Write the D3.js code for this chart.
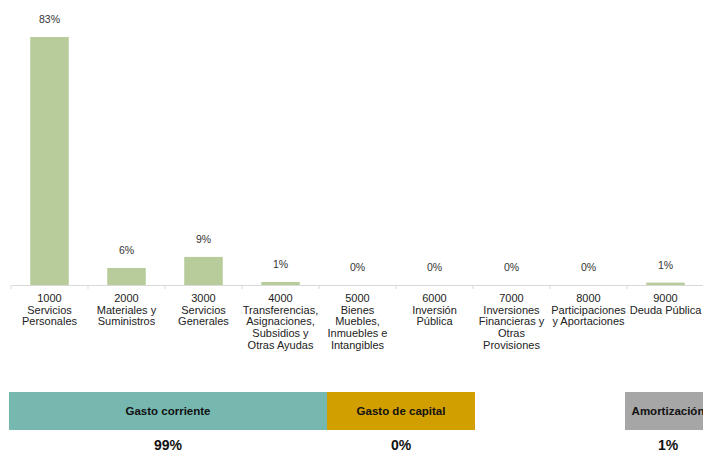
<!DOCTYPE html>
<html>
<head>
<meta charset="utf-8">
<script src="https://cdn.jsdelivr.net/npm/d3@7"></script>
<style>
  html, body { margin: 0; padding: 0; background: #fff; overflow: hidden; }
  svg { display: block; font-family: "Liberation Sans", Arial, sans-serif; }
</style>
</head>
<body>
<svg id="chart" width="703" height="453"></svg>
<script>
// ---- data ----
const categories = [
  ["1000", "Servicios", "Personales"],
  ["2000", "Materiales y", "Suministros"],
  ["3000", "Servicios", "Generales"],
  ["4000", "Transferencias,", "Asignaciones,", "Subsidios y", "Otras Ayudas"],
  ["5000", "Bienes", "Muebles,", "Inmuebles e", "Intangibles"],
  ["6000", "Inversión", "Pública"],
  ["7000", "Inversiones", "Financieras y", "Otras", "Provisiones"],
  ["8000", "Participaciones", "y Aportaciones"],
  ["9000", "Deuda Pública"]
];
const shares = [0.830, 0.057, 0.094, 0.010, 0.0, 0.0, 0.0, 0.0, 0.008];
const shareLabels = ["83%", "6%", "9%", "1%", "0%", "0%", "0%", "0%", "1%"];

const groupNames = ["Gasto corriente", "Gasto de capital", "Amortización"];
const groupValues = ["99%", "0%", "1%"];
const groupColors = ["#76b8b0", "#d19f00", "#a6a6a6"];
// group box extents, in units of the bottom strip scale
const groupStart = [0, 318, 616];
const groupEnd = [318, 466, 702];

// ---- layout ----
const svg = d3.select("#chart");
const ids = categories.map(c => c[0]);

const x = d3.scaleBand().domain(ids).range([11, 704]).paddingInner(0.5).paddingOuter(0.25);
const y = d3.scaleLinear().domain([0, 0.83]).range([285, 37]);

// bars
svg.append("g").selectAll("rect").data(shares).join("rect")
  .attr("x", (d, i) => x(ids[i]))
  .attr("y", d => y(d))
  .attr("width", x.bandwidth())
  .attr("height", d => y(0) - y(d))
  .attr("fill", "#b7cb9b");

// value labels
svg.append("g").selectAll("text").data(shares).join("text")
  .attr("x", (d, i) => x(ids[i]) + x.bandwidth() / 2)
  .attr("y", d => y(d) - 14)
  .attr("text-anchor", "middle")
  .attr("font-size", 10.5)
  .attr("fill", "#333")
  .text((d, i) => shareLabels[i]);

// axis
const axisScale = d3.scaleBand().domain(ids).range([11, 704]);
const axis = d3.axisBottom(axisScale).tickSize(0).tickFormat("");
const gAxis = svg.append("g").attr("transform", "translate(0,285)").call(axis);
gAxis.select(".domain").attr("stroke", "#d9d9d9").attr("stroke-width", 1.2);
// boundary ticks
const bounds = ids.map(id => axisScale(id)).concat([axisScale.range()[1]]);
gAxis.selectAll("line.bt").data(bounds).join("line").attr("class", "bt")
  .attr("x1", d => d).attr("x2", d => d).attr("y1", 0).attr("y2", 4)
  .attr("stroke", "#d9d9d9");

// category labels
const lab = svg.append("g").selectAll("text").data(categories).join("text")
  .attr("text-anchor", "middle")
  .attr("font-size", 11)
  .attr("fill", "#222")
  .attr("x", (d) => axisScale(d[0]) + axisScale.bandwidth() / 2)
  .attr("y", 302);
lab.each(function(d) {
  const t = d3.select(this);
  d.forEach((line, j) => {
    t.append("tspan")
      .attr("x", axisScale(d[0]) + axisScale.bandwidth() / 2)
      .attr("dy", j === 0 ? 0 : 11.7)
      .text(line);
  });
});

// bottom strip
const xs = d3.scaleLinear().domain([0, 702]).range([9, 711]);
const strip = svg.append("g");
strip.selectAll("rect").data(groupNames).join("rect")
  .attr("x", (d, i) => xs(groupStart[i]))
  .attr("width", (d, i) => xs(groupEnd[i]) - xs(groupStart[i]))
  .attr("y", 392).attr("height", 38)
  .attr("fill", (d, i) => groupColors[i]);
strip.selectAll("text.gn").data(groupNames).join("text").attr("class", "gn")
  .attr("x", (d, i) => (xs(groupStart[i]) + xs(groupEnd[i])) / 2)
  .attr("y", 415)
  .attr("text-anchor", "middle")
  .attr("font-size", 11.5).attr("font-weight", "bold").attr("fill", "#111")
  .text(d => d);
strip.selectAll("text.gv").data(groupValues).join("text").attr("class", "gv")
  .attr("x", (d, i) => (xs(groupStart[i]) + xs(groupEnd[i])) / 2)
  .attr("y", 450)
  .attr("text-anchor", "middle")
  .attr("font-size", 14).attr("font-weight", "bold").attr("fill", "#111")
  .text(d => d);
</script>
</body>
</html>
